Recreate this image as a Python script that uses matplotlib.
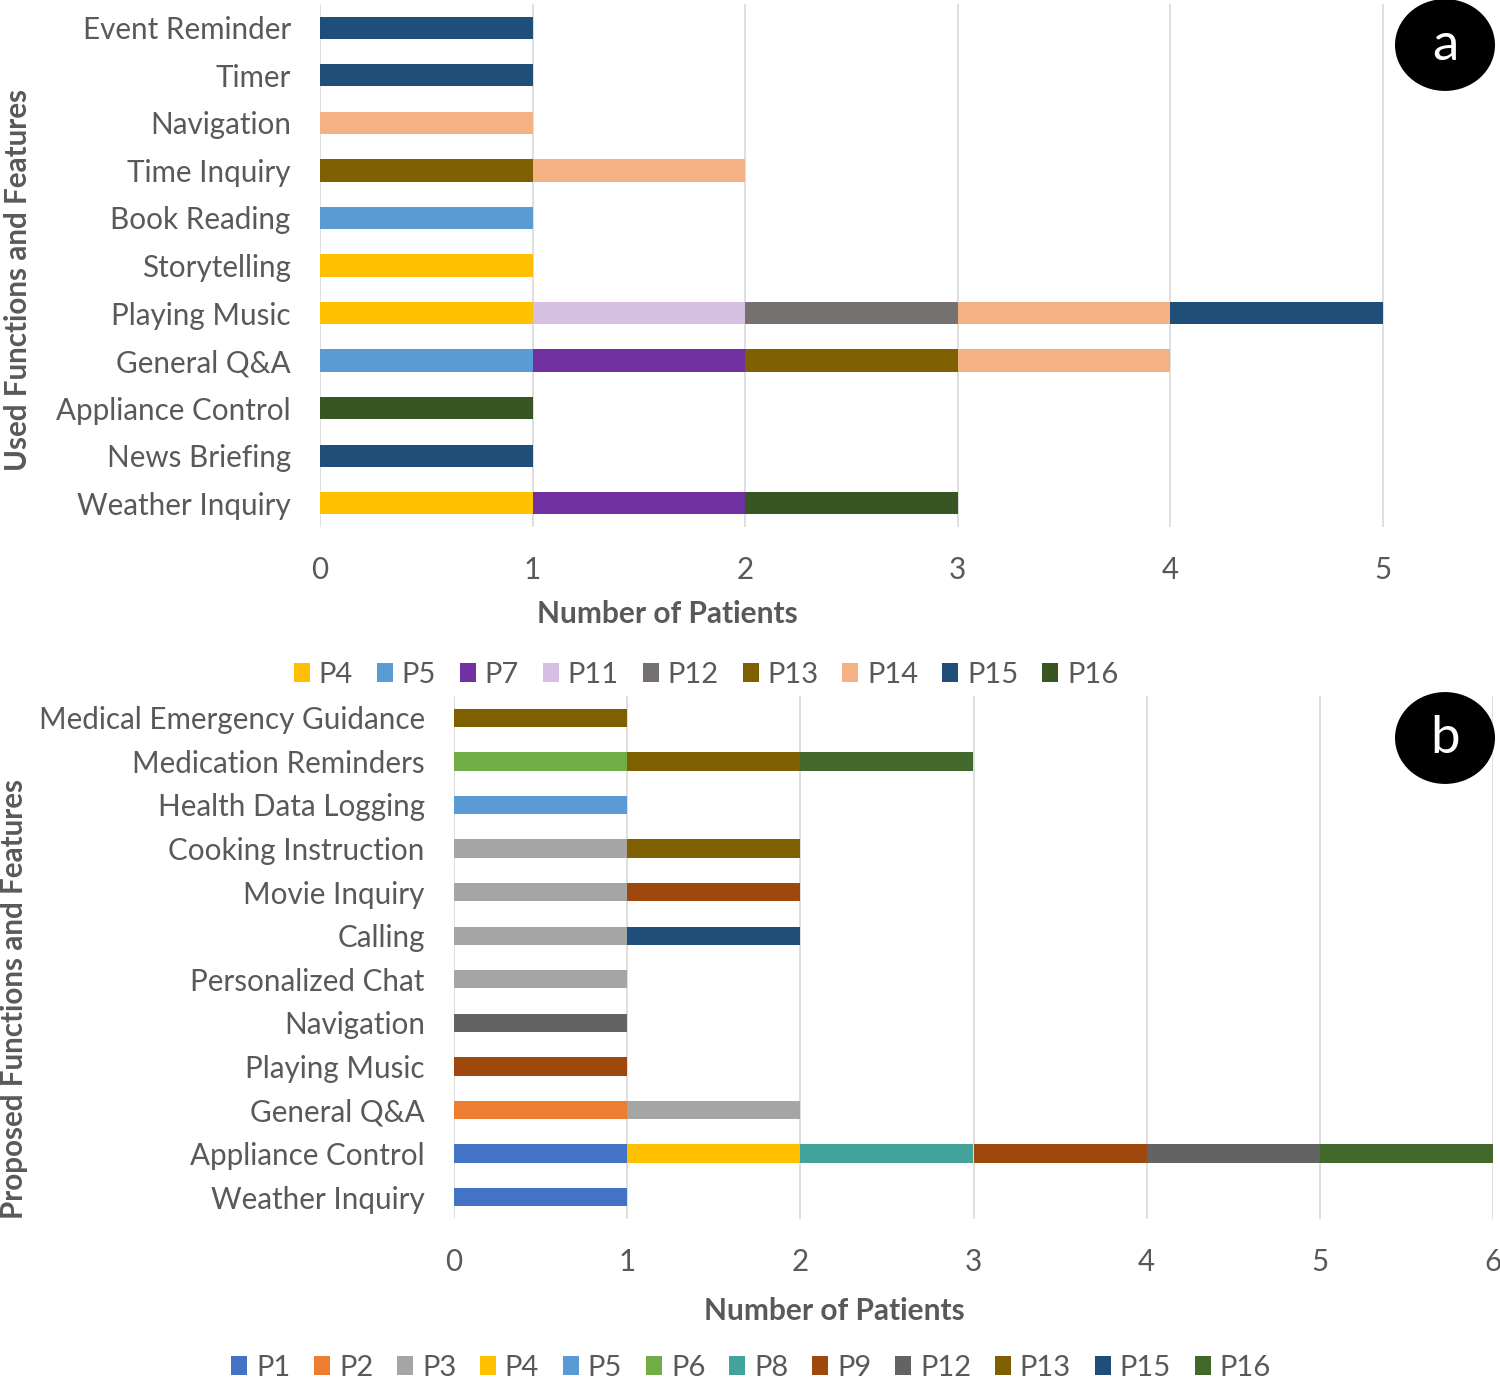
import matplotlib
matplotlib.use('Agg')

import numpy as np
import matplotlib.pyplot as plt
from matplotlib.patches import Circle, Patch

plt.rcParams['font.family'] = ['Lato', 'DejaVu Sans']

# ---- panel a: used functions (bottom to top) ----
used_features = ['Weather Inquiry', 'News Briefing', 'Appliance Control', 'General Q&A',
                 'Playing Music', 'Storytelling', 'Book Reading', 'Time Inquiry',
                 'Navigation', 'Timer', 'Event Reminder']
used_patients = ['P4', 'P5', 'P7', 'P11', 'P12', 'P13', 'P14', 'P15', 'P16']
used_values = [
    [1, 0, 0, 0, 1, 1, 0, 0, 0, 0, 0],  # P4
    [0, 0, 0, 1, 0, 0, 1, 0, 0, 0, 0],  # P5
    [1, 0, 0, 1, 0, 0, 0, 0, 0, 0, 0],  # P7
    [0, 0, 0, 0, 1, 0, 0, 0, 0, 0, 0],  # P11
    [0, 0, 0, 0, 1, 0, 0, 0, 0, 0, 0],  # P12
    [0, 0, 0, 1, 0, 0, 0, 1, 0, 0, 0],  # P13
    [0, 0, 0, 1, 1, 0, 0, 1, 1, 0, 0],  # P14
    [0, 1, 0, 0, 1, 0, 0, 0, 0, 1, 1],  # P15
    [1, 0, 1, 0, 0, 0, 0, 0, 0, 0, 0],  # P16
]
used_colors = ['#FFC000', '#5B9BD5', '#7030A0', '#D5BFE2', '#767171',
               '#7F6000', '#F4B183', '#1F4E79', '#375623']

# ---- panel b: proposed functions (bottom to top) ----
prop_features = ['Weather Inquiry', 'Appliance Control', 'General Q&A', 'Playing Music',
                 'Navigation', 'Personalized Chat', 'Calling', 'Movie Inquiry',
                 'Cooking Instruction', 'Health Data Logging', 'Medication Reminders',
                 'Medical Emergency Guidance']
prop_patients = ['P1', 'P2', 'P3', 'P4', 'P5', 'P6', 'P8', 'P9', 'P12', 'P13', 'P15', 'P16']
prop_values = [
    [1, 1, 0, 0, 0, 0, 0, 0, 0, 0, 0, 0],  # P1
    [0, 0, 1, 0, 0, 0, 0, 0, 0, 0, 0, 0],  # P2
    [0, 0, 1, 0, 0, 1, 1, 1, 1, 0, 0, 0],  # P3
    [0, 1, 0, 0, 0, 0, 0, 0, 0, 0, 0, 0],  # P4
    [0, 0, 0, 0, 0, 0, 0, 0, 0, 1, 0, 0],  # P5
    [0, 0, 0, 0, 0, 0, 0, 0, 0, 0, 1, 0],  # P6
    [0, 1, 0, 0, 0, 0, 0, 0, 0, 0, 0, 0],  # P8
    [0, 1, 0, 1, 0, 0, 0, 1, 0, 0, 0, 0],  # P9
    [0, 1, 0, 0, 1, 0, 0, 0, 0, 0, 0, 0],  # P12
    [0, 0, 0, 0, 0, 0, 0, 0, 1, 0, 1, 1],  # P13
    [0, 0, 0, 0, 0, 0, 1, 0, 0, 0, 0, 0],  # P15
    [0, 1, 0, 0, 0, 0, 0, 0, 0, 0, 1, 0],  # P16
]
prop_colors = ['#4472C4', '#ED7D31', '#A5A5A5', '#FFC000', '#5B9BD5', '#70AD47',
               '#43A39A', '#9E480E', '#636363', '#7F6000', '#1F4E79', '#43682B']

TXT = '#595959'
W, H = 1500, 1378
fig = plt.figure(figsize=(W / 100, H / 100), dpi=100)


def fx(px):
    return px / W


def fy(py):
    return 1 - py / H


def stacked(ax, feats, patients, values, colors, xmax, height):
    y = np.arange(len(feats))
    left = np.zeros(len(feats))
    for name, vals, c in zip(patients, values, colors):
        vals = np.array(vals, dtype=float)
        ax.barh(y, vals, left=left, height=height, color=c, label=name, zorder=3)
        left += vals
    ax.set_xlim(0, xmax)
    ax.set_ylim(-0.5, len(feats) - 0.5)
    ax.set_yticks(y)
    ax.set_yticklabels(feats)
    ax.set_xticks(range(int(xmax) + 1))
    ax.grid(axis='x', color='#D9D9D9', linewidth=1.2, zorder=0)
    for s in ax.spines.values():
        s.set_visible(False)
    ax.tick_params(length=0, labelsize=21.3, labelcolor=TXT)
    ax.tick_params(axis='y', pad=21)
    ax.tick_params(axis='x', pad=21)


# panel a
ax1 = fig.add_axes([fx(320), fy(527), fx(1489) - fx(320), (527 - 4) / H])
stacked(ax1, used_features, used_patients, used_values, used_colors, 5.5, 0.47)
ax1.set_xticks(range(6))

# panel b
ax2 = fig.add_axes([fx(454), fy(1219), fx(1493) - fx(454), (1219 - 696) / H])
stacked(ax2, prop_features, prop_patients, prop_values, prop_colors, 6, 0.42)

# axis titles
fig.text(fx(667), fy(614), 'Number of Patients', ha='center', va='center',
         fontsize=21.5, fontweight='bold', color=TXT)
fig.text(fx(834), fy(1311), 'Number of Patients', ha='center', va='center',
         fontsize=21.5, fontweight='bold', color=TXT)
fig.text(fx(18), fy(280), 'Used Functions and Features', rotation=90, ha='center',
         va='center', fontsize=21.3, fontweight='bold', color=TXT)
fig.text(fx(14), fy(999), 'Proposed Functions and Features', rotation=90, ha='center',
         va='center', fontsize=21.3, fontweight='bold', color=TXT)

# legends
for patients, colors, cx, cy in [(used_patients, used_colors, 706, 675),
                                 (prop_patients, prop_colors, 751, 1368)]:
    handles = [Patch(facecolor=c) for c in colors]
    fig.legend(handles, patients, loc='center', bbox_to_anchor=(fx(cx), fy(cy)),
               ncol=len(patients), frameon=False, fontsize=21, labelcolor=TXT,
               handlelength=0.55, handleheight=0.6, handletextpad=0.3,
               columnspacing=0.82, borderpad=0)

# panel markers
for label, cy in [('a', 45), ('b', 738)]:
    fig.add_artist(Circle((fx(1445), fy(cy)), 0.5 * 100 / W, transform=fig.transFigure,
                          facecolor='black', edgecolor='none'))
    fig.text(fx(1445), fy(cy), label, ha='center', va='center', fontsize=38,
             color='white')

fig.savefig('out.png', dpi=100)
